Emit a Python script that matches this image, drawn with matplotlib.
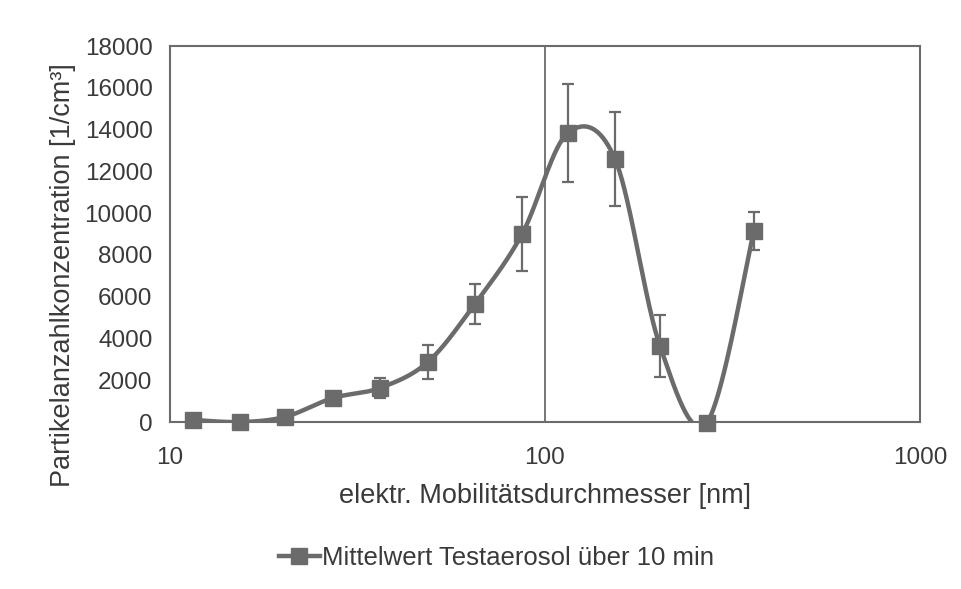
import numpy as np
import matplotlib.pyplot as plt

# Messwerte: Mobilitätsdurchmesser [nm], Konzentration [1/cm³], Standardabweichung
durchmesser = [11.5, 15.4, 20.3, 27.2, 36.3, 48.7, 65.0, 86.9, 115.0, 153.7, 202.6, 270.0, 360.7]
konzentration = [100, 0, 250, 1150, 1630, 2870, 5650, 9000, 13830, 12590, 3640, -30, 9140]
fehler = [80, 60, 120, 200, 480, 800, 980, 1770, 2350, 2230, 1480, 100, 900]

x_ticks = [10, 100, 1000]
y_ticks = list(range(0, 18001, 2000))

grau = "#6b6b6b"
textfarbe = "#3a3a3a"
plt.rcParams['font.family'] = ['Liberation Sans', 'DejaVu Sans']


def glatte_kurve(xs, ys, n=40):
    # Bezier-Glättung wie in Excel (Catmull-Rom), in log-x berechnet
    lx = np.log10(xs)
    y = np.asarray(ys, dtype=float)
    px = np.concatenate([[lx[0]], lx, [lx[-1]]])
    py = np.concatenate([[y[0]], y, [y[-1]]])
    out_x, out_y = [], []
    t = np.linspace(0, 1, n)
    for i in range(1, len(px) - 2):
        p0 = np.array([px[i], py[i]])
        p3 = np.array([px[i + 1], py[i + 1]])
        p1 = p0 + (np.array([px[i + 1], py[i + 1]]) - np.array([px[i - 1], py[i - 1]])) / 6
        p2 = p3 - (np.array([px[i + 2], py[i + 2]]) - np.array([px[i], py[i]])) / 6
        b = ((1 - t) ** 3)[:, None] * p0 + (3 * (1 - t) ** 2 * t)[:, None] * p1 \
            + (3 * (1 - t) * t ** 2)[:, None] * p2 + (t ** 3)[:, None] * p3
        out_x.append(b[:, 0])
        out_y.append(b[:, 1])
    return 10 ** np.concatenate(out_x), np.concatenate(out_y)


fig = plt.figure(figsize=(9.62, 5.89), dpi=100)
ax = fig.add_axes([0.1767, 0.2835, 0.7796, 0.6384])

kx, ky = glatte_kurve(durchmesser, konzentration)
ax.plot(kx, ky, color=grau, lw=3.2, solid_capstyle='round', zorder=3)
ax.errorbar(durchmesser, konzentration, yerr=fehler, fmt='none', ecolor=grau,
            elinewidth=1.6, capsize=4, capthick=1.6, zorder=4, clip_on=False)
ax.plot(durchmesser, konzentration, 's', color=grau, ms=11, zorder=5, clip_on=False)

# Legende mit Linie + Marker
ax.plot([], [], '-s', color=grau, lw=3.2, ms=11, label="Mittelwert Testaerosol über 10 min")

ax.set_xscale('log')
ax.set_xlim(10, 1000)
ax.set_ylim(0, 18000)
ax.set_xticks(x_ticks)
ax.set_xticklabels([str(v) for v in x_ticks])
ax.xaxis.set_minor_locator(plt.NullLocator())
ax.set_yticks(y_ticks)
ax.tick_params(axis='both', length=0, labelsize=17.5, labelcolor=textfarbe)
ax.tick_params(axis='x', pad=18)
ax.tick_params(axis='y', pad=12.5)
ax.grid(True, which='major', axis='x', color=grau, lw=1.3)

for s in ax.spines.values():
    s.set_color(grau)
    s.set_linewidth(1.5)

ax.set_xlabel("elektr. Mobilitätsdurchmesser [nm]", fontsize=19.5, color=textfarbe, labelpad=10)
ax.set_ylabel("Partikelanzahlkonzentration [1/cm³]", fontsize=19.5, color=textfarbe)
ax.yaxis.set_label_coords(-0.125, 0.39)

fig.legend(loc='center', bbox_to_anchor=(0.516, 0.053), frameon=False, fontsize=18.5,
           handlelength=1.6, handletextpad=0.1, labelcolor=textfarbe)

fig.savefig("out.png", dpi=100)
